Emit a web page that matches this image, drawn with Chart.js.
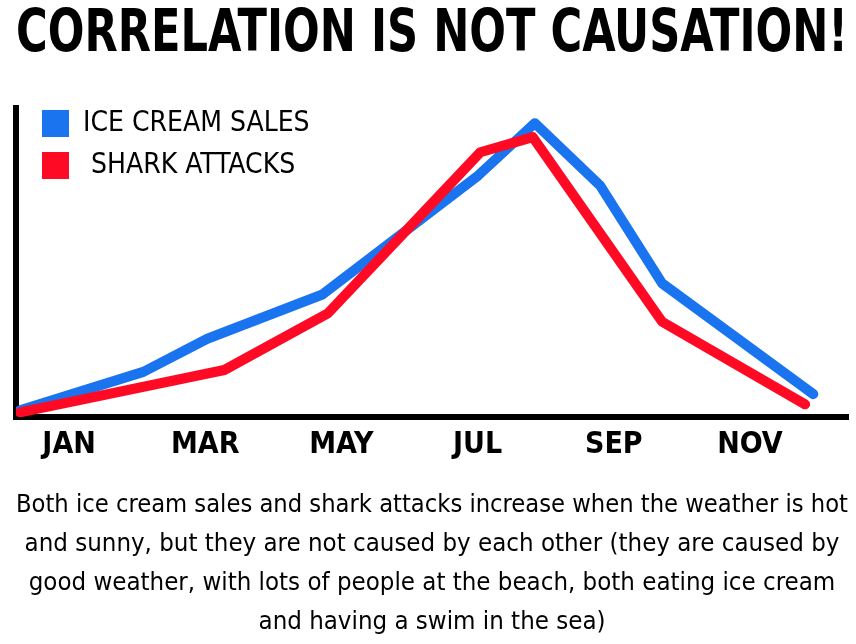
<!DOCTYPE html>
<html>
<head>
<meta charset="utf-8">
<script src="https://cdn.jsdelivr.net/npm/chart.js@4.4.1/dist/chart.umd.min.js"></script>
<style>
  html, body { margin: 0; padding: 0; background: #ffffff; }
  #wrap { width: 856px; height: 644px; }
</style>
</head>
<body>
<div id="wrap"><canvas id="c" width="856" height="644"></canvas></div>
<script>
// ---- data ----
const titleText = 'CORRELATION IS NOT CAUSATION!';
const captionLines = [
  'Both ice cream sales and shark attacks increase when the weather is hot',
  'and sunny, but they are not caused by each other (they are caused by',
  'good weather, with lots of people at the beach, both eating ice cream',
  'and having a swim in the sea)'
];
const seriesNames = ['ICE CREAM SALES', ' SHARK ATTACKS'];
// x in months (0 = JAN), y in relative units 0..100
const iceMonths  = [-0.72, 1.09, 2.03, 3.72, 6.01, 6.84, 7.80, 8.71, 10.93];
const iceValues  = [2.3, 14.7, 25.4, 39.7, 78.2, 95.1, 74.9, 43.3, 7.5];
const sharkMonths = [-0.72, 2.28, 3.80, 6.04, 6.81, 8.71, 10.81];
const sharkValues = [1.6, 15.3, 33.6, 85.7, 90.6, 30.9, 4.2];
const tickMonths = [0, 2, 4, 6, 8, 10];
const tickLabels = ['JAN', 'MAR', 'MAY', 'JUL', 'SEP', 'NOV'];

// ---- styling ----
const FONT = "'Liberation Sans Narrow', 'DejaVu Sans Condensed', 'Liberation Sans', Arial, sans-serif";
const BLUE = '#1a74f0';
const RED = '#ff0a24';
const LEGEND_DX = 12;    // offset of legend from chart area left
const LEGEND_DY = -12.5; // offset of legend from chart area top

const toPoints = (xs, ys) => xs.map((x, i) => ({ x: x, y: ys[i] }));

const legendPlace = {
  id: 'legendPlace',
  afterLayout(chart) {
    const lg = chart.legend;
    if (!lg) return;
    const w = lg.width, h = lg.height;
    lg.left = chart.chartArea.left + LEGEND_DX;
    lg.top = chart.chartArea.top + LEGEND_DY;
    lg.right = lg.left + w;
    lg.bottom = lg.top + h;
  }
};

new Chart(document.getElementById('c'), {
  type: 'line',
  data: {
    datasets: [
      {
        label: seriesNames[0],
        data: toPoints(iceMonths, iceValues),
        borderColor: BLUE,
        backgroundColor: BLUE,
        borderWidth: 10,
        borderCapStyle: 'round',
        borderJoinStyle: 'round',
        pointRadius: 0,
        tension: 0,
        fill: false,
        order: 1
      },
      {
        label: seriesNames[1],
        data: toPoints(sharkMonths, sharkValues),
        borderColor: RED,
        backgroundColor: RED,
        borderWidth: 10,
        borderCapStyle: 'round',
        borderJoinStyle: 'round',
        pointRadius: 0,
        tension: 0,
        fill: false,
        order: 0
      }
    ]
  },
  options: {
    responsive: false,
    animation: false,
    devicePixelRatio: 1,
    layout: { padding: { left: 16, right: 8, top: 0, bottom: 2 } },
    scales: {
      x: {
        type: 'linear',
        min: -0.78,
        max: 11.44,
        afterBuildTicks(scale) {
          scale.ticks = tickMonths.map(v => ({ value: v }));
        },
        grid: { display: false, drawTicks: false },
        border: { display: true, color: '#000', width: 6 },
        ticks: {
          autoSkip: false,
          maxRotation: 0,
          padding: 8,
          color: '#000',
          font: { family: FONT, size: 30, weight: 'bold', lineHeight: 1.3 },
          callback(value) {
            const i = tickMonths.indexOf(value);
            return i >= 0 ? tickLabels[i] : '';
          }
        }
      },
      y: {
        type: 'linear',
        min: 0,
        max: 100,
        grid: { display: false, drawTicks: false },
        border: { display: true, color: '#000', width: 6 },
        ticks: { display: false }
      }
    },
    plugins: {
      tooltip: { enabled: false },
      title: {
        display: true,
        text: titleText,
        color: '#000',
        font: { family: FONT, size: 59, weight: 'bold', lineHeight: 1.0 },
        padding: { top: 6, bottom: 43 }
      },
      subtitle: {
        display: true,
        position: 'bottom',
        text: captionLines,
        color: '#000',
        font: { family: FONT, size: 25.6, weight: 'normal', lineHeight: 1.53 },
        padding: { top: 13, bottom: 0 }
      },
      legend: {
        display: true,
        position: 'chartArea',
        align: 'start',
        labels: {
          boxWidth: 27,
          boxHeight: 27,
          padding: 14,
          color: '#000',
          font: { family: FONT, size: 28, weight: 'normal' },
          generateLabels(chart) {
            return chart.data.datasets.map((ds, i) => ({
              text: ds.label,
              fillStyle: ds.borderColor,
              strokeStyle: ds.borderColor,
              lineWidth: 0,
              hidden: false,
              datasetIndex: i,
              fontColor: '#000'
            }));
          }
        }
      }
    }
  },
  plugins: [legendPlace]
});
</script>
</body>
</html>
